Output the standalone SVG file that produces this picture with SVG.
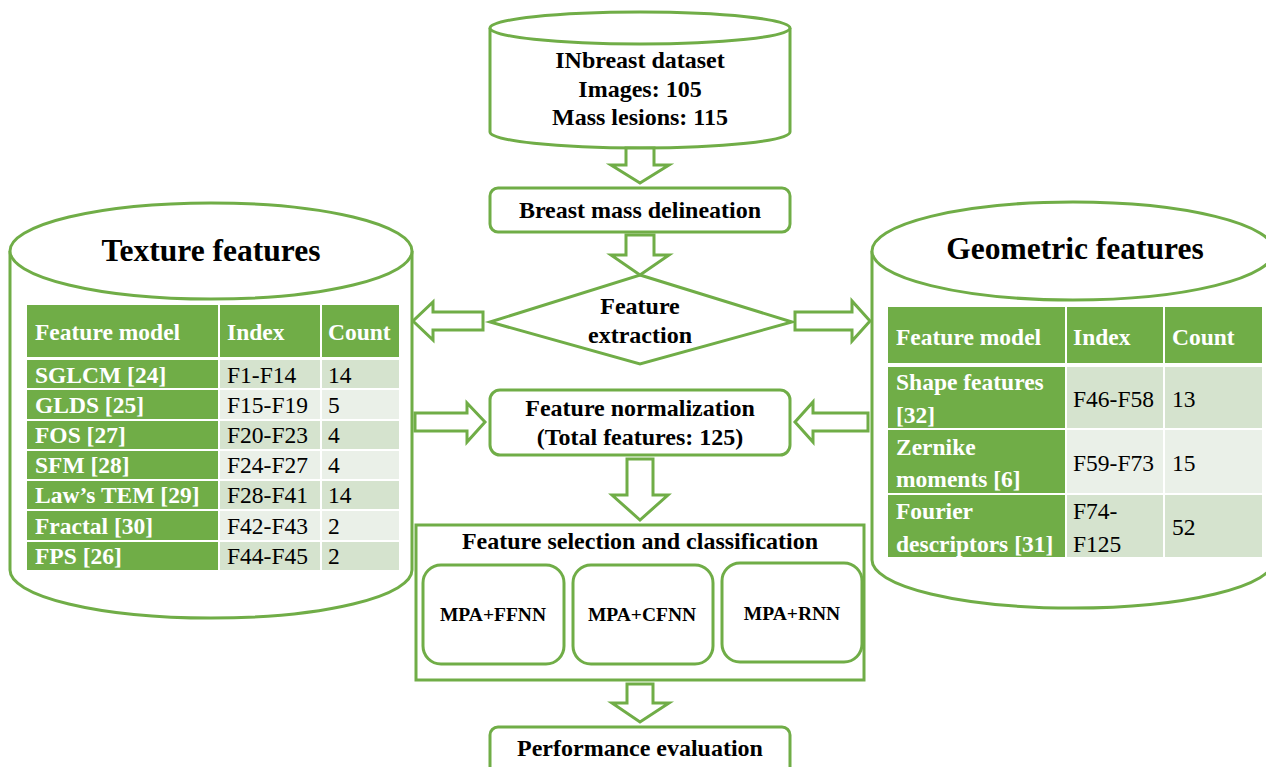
<svg xmlns="http://www.w3.org/2000/svg" width="1266" height="767" viewBox="0 0 1266 767">
<style>
.sh{fill:#fff;stroke:#70AD47;stroke-width:3}
.ar{fill:#fff;stroke:#70AD47;stroke-width:3;stroke-linejoin:miter}
text{font-family:"Liberation Serif","Times New Roman",Times,"DejaVu Serif",serif}
.t{font-weight:bold;font-size:24px;fill:#000;text-anchor:middle}
.ttl{font-weight:bold;font-size:31.5px;fill:#000;text-anchor:middle}
.mpa{font-weight:bold;font-size:19.5px;fill:#000;text-anchor:middle}
.hd{fill:#70AD47}
.l1{fill:#D5E3CE}
.l2{fill:#EAF0E8}
.wh{font-weight:bold;font-size:23.5px;fill:#fff}
.bk{font-size:23.5px;fill:#000}
</style>

<g id="texture-features">
  <path class="sh" d="M10,251 L10,570 A201,48 0 0 0 412,570 L412,251"/>
  <ellipse class="sh" cx="211" cy="251" rx="201" ry="48"/>
  <text class="ttl" x="211" y="261">Texture features</text>
  <g id="texture-table">
    <rect class="hd" x="27" y="305" width="191" height="52"/>
    <rect class="hd" x="220" y="305" width="100" height="52"/>
    <rect class="hd" x="322" y="305" width="77" height="52"/>
    <text class="wh" x="35" y="340">Feature model</text>
    <text class="wh" x="227" y="340">Index</text>
    <text class="wh" x="328" y="340">Count</text>

    <rect class="hd" x="27" y="360" width="191" height="28"/>
    <rect class="l1" x="220" y="360" width="100" height="28"/>
    <rect class="l1" x="322" y="360" width="77" height="28"/>
    <text class="wh" x="35" y="383">SGLCM [24]</text>
    <text class="bk" x="227" y="383">F1-F14</text>
    <text class="bk" x="328" y="383">14</text>

    <rect class="hd" x="27" y="390" width="191" height="29"/>
    <rect class="l2" x="220" y="390" width="100" height="29"/>
    <rect class="l2" x="322" y="390" width="77" height="29"/>
    <text class="wh" x="35" y="413">GLDS [25]</text>
    <text class="bk" x="227" y="413">F15-F19</text>
    <text class="bk" x="328" y="413">5</text>

    <rect class="hd" x="27" y="421" width="191" height="28"/>
    <rect class="l1" x="220" y="421" width="100" height="28"/>
    <rect class="l1" x="322" y="421" width="77" height="28"/>
    <text class="wh" x="35" y="443">FOS [27]</text>
    <text class="bk" x="227" y="443">F20-F23</text>
    <text class="bk" x="328" y="443">4</text>

    <rect class="hd" x="27" y="451" width="191" height="28"/>
    <rect class="l2" x="220" y="451" width="100" height="28"/>
    <rect class="l2" x="322" y="451" width="77" height="28"/>
    <text class="wh" x="35" y="473">SFM [28]</text>
    <text class="bk" x="227" y="473">F24-F27</text>
    <text class="bk" x="328" y="473">4</text>

    <rect class="hd" x="27" y="481" width="191" height="28"/>
    <rect class="l1" x="220" y="481" width="100" height="28"/>
    <rect class="l1" x="322" y="481" width="77" height="28"/>
    <text class="wh" x="35" y="503">Law’s TEM [29]</text>
    <text class="bk" x="227" y="503">F28-F41</text>
    <text class="bk" x="328" y="503">14</text>

    <rect class="hd" x="27" y="511" width="191" height="29"/>
    <rect class="l2" x="220" y="511" width="100" height="29"/>
    <rect class="l2" x="322" y="511" width="77" height="29"/>
    <text class="wh" x="35" y="534">Fractal [30]</text>
    <text class="bk" x="227" y="534">F42-F43</text>
    <text class="bk" x="328" y="534">2</text>

    <rect class="hd" x="27" y="542" width="191" height="28"/>
    <rect class="l1" x="220" y="542" width="100" height="28"/>
    <rect class="l1" x="322" y="542" width="77" height="28"/>
    <text class="wh" x="35" y="564">FPS [26]</text>
    <text class="bk" x="227" y="564">F44-F45</text>
    <text class="bk" x="328" y="564">2</text>
  </g>
</g>

<g id="geometric-features">
  <path class="sh" d="M872,251 L872,560 A201,48 0 0 0 1274,560 L1274,251"/>
  <ellipse class="sh" cx="1073" cy="251" rx="201" ry="49"/>
  <text class="ttl" x="1075" y="259">Geometric features</text>
  <g id="geometric-table">
    <rect class="hd" x="888" y="307" width="177" height="56"/>
    <rect class="hd" x="1067" y="307" width="96" height="56"/>
    <rect class="hd" x="1165" y="307" width="97" height="56"/>
    <text class="wh" x="896" y="345">Feature model</text>
    <text class="wh" x="1073" y="345">Index</text>
    <text class="wh" x="1172" y="345">Count</text>

    <rect class="hd" x="888" y="367" width="177" height="61"/>
    <rect class="l1" x="1067" y="367" width="96" height="61"/>
    <rect class="l1" x="1165" y="367" width="97" height="61"/>
    <text class="wh" x="896" y="390">Shape features</text>
    <text class="wh" x="896" y="423">[32]</text>
    <text class="bk" x="1073" y="407">F46-F58</text>
    <text class="bk" x="1172" y="407">13</text>

    <rect class="hd" x="888" y="430" width="177" height="63"/>
    <rect class="l2" x="1067" y="430" width="96" height="63"/>
    <rect class="l2" x="1165" y="430" width="97" height="63"/>
    <text class="wh" x="896" y="455">Zernike</text>
    <text class="wh" x="896" y="487">moments [6]</text>
    <text class="bk" x="1073" y="471">F59-F73</text>
    <text class="bk" x="1172" y="471">15</text>

    <rect class="hd" x="888" y="495" width="177" height="62"/>
    <rect class="l1" x="1067" y="495" width="96" height="62"/>
    <rect class="l1" x="1165" y="495" width="97" height="62"/>
    <text class="wh" x="896" y="519">Fourier</text>
    <text class="wh" x="896" y="552">descriptors [31]</text>
    <text class="bk" x="1073" y="519">F74-</text>
    <text class="bk" x="1073" y="552">F125</text>
    <text class="bk" x="1172" y="535">52</text>
  </g>
</g>

<g id="inbreast-dataset">
  <path class="sh" d="M490,28 L490,132 A150,16 0 0 0 790,132 L790,28"/>
  <ellipse class="sh" cx="640" cy="28" rx="150" ry="16"/>
  <text class="t" x="640" y="68">INbreast dataset</text>
  <text class="t" x="640" y="97">Images: 105</text>
  <text class="t" x="640" y="125">Mass lesions: 115</text>
</g>

<g id="breast-mass-delineation">
  <rect class="sh" x="490" y="188" width="300" height="44" rx="8"/>
  <text class="t" x="640" y="218">Breast mass delineation</text>
</g>

<g id="feature-extraction">
  <polygon class="sh" points="640,275 792,322 640,364 490,322"/>
  <text class="t" x="640" y="314">Feature</text>
  <text class="t" x="640" y="343">extraction</text>
</g>

<g id="feature-normalization">
  <rect class="sh" x="490" y="390" width="300" height="65" rx="10"/>
  <text class="t" x="640" y="416">Feature normalization</text>
  <text class="t" x="640" y="445">(Total features: 125)</text>
</g>

<g id="feature-selection">
  <rect class="sh" x="416" y="525" width="448" height="155"/>
  <text class="t" x="640" y="549">Feature selection and classification</text>
  <g id="mpa-ffnn">
    <rect class="sh" x="423" y="565" width="141" height="99" rx="18"/>
    <text class="mpa" x="493" y="621">MPA+FFNN</text>
  </g>
  <g id="mpa-cfnn">
    <rect class="sh" x="573" y="565" width="140" height="99" rx="18"/>
    <text class="mpa" x="642" y="621">MPA+CFNN</text>
  </g>
  <g id="mpa-rnn">
    <rect class="sh" x="722" y="563" width="140" height="99" rx="18"/>
    <text class="mpa" x="792" y="620">MPA+RNN</text>
  </g>
</g>

<g id="performance-evaluation">
  <rect class="sh" x="490" y="727" width="300" height="50" rx="8"/>
  <text class="t" x="640" y="756">Performance evaluation</text>
</g>

<g id="connectors">
  <polygon class="ar" points="626,148 654,148 654,165 669,165 640,183 611,165 626,165"/>
  <polygon class="ar" points="626,235 654,235 654,255 669,255 640,275 611,255 626,255"/>
  <polygon class="ar" points="627,459 653,459 653,495 668,495 640,520 612,495 627,495"/>
  <polygon class="ar" points="627,684 653,684 653,703 669,703 640,722 612,703 627,703"/>
  <polygon class="ar" points="483,312 483,330 433,330 433,340 413,321 433,302 433,312"/>
  <polygon class="ar" points="795,312 852,312 852,301 870,321 852,341 852,330 795,330"/>
  <polygon class="ar" points="415,413 467,413 467,403 485,422 467,442 467,431 415,431"/>
  <polygon class="ar" points="868,413 813,413 813,402 795,422 813,442 813,431 868,431"/>
</g>
</svg>
